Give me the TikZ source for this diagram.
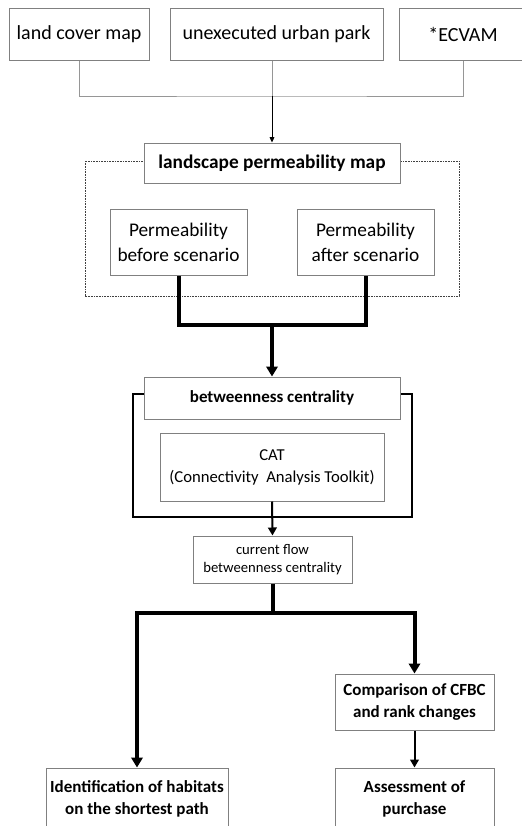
\documentclass[tikz,border=0pt]{standalone}
\usepackage{fontspec}
\setmainfont{Carlito}
\usetikzlibrary{arrows.meta,calc}
\definecolor{boxgray}{RGB}{128,128,128}
\definecolor{linegray}{RGB}{150,150,150}
\begin{document}
\begin{tikzpicture}[x=0.75pt,y=-0.75pt,
  box/.style={draw=boxgray,line width=0.75pt,fill=white,inner sep=0pt,align=center,text=black},
  fA/.style={font=\fontsize{15pt}{18pt}\selectfont},
  fB/.style={font=\fontsize{14.5pt}{18.75pt}\selectfont},
  fBb/.style={font=\fontsize{14.5pt}{18.75pt}\selectfont\bfseries},
  fC/.style={font=\fontsize{12.75pt}{16.5pt}\selectfont\bfseries},
  fD/.style={font=\fontsize{12.5pt}{16.5pt}\selectfont},
  fE/.style={font=\fontsize{11pt}{13.5pt}\selectfont},
  thinline/.style={draw=linegray,line width=0.75pt},
  thinarrow/.style={draw=black,line width=0.75pt,-{Triangle[length=4pt,width=3.5pt]}},
  heavy/.style={draw=black,line width=3pt},
  heavyarrow/.style={heavy,-{Triangle[length=7.5pt,width=8.5pt]}},
  midarrow/.style={draw=black,line width=1.5pt,-{Triangle[length=6pt,width=6.5pt]}},
  dotframe/.style={draw=black!75,line width=0.75pt,dash pattern=on 0.6pt off 0.6pt},
  bracket/.style={draw=black,line width=1.5pt}
]
\useasboundingbox (0,0) rectangle (522,826);
\clip (0,0) rectangle (522,826);
\fill[white] (0,0) rectangle (522,826);

% top row
\node[box,fA,minimum width=105pt,minimum height=39pt] (lcm) at (79,34) {land cover map};
\node[box,fA,minimum width=159.75pt,minimum height=39pt] (uup) at (276.5,34) {unexecuted urban park};
\node[box,fA,minimum width=96pt,minimum height=39pt] (ecv) at (463,34) {*ECVAM};

% dotted frame
\draw[dotframe] (85,161) rectangle (459,296);

\node[box,fBb,minimum width=192pt,minimum height=30pt] (lpm) at (272,163) {landscape permeability map};
\node[box,fB,minimum width=102.75pt,minimum height=49.5pt] (pb) at (178.5,242) {Permeability\\before scenario};
\node[box,fB,minimum width=102.75pt,minimum height=49.5pt] (pa) at (365.5,242) {Permeability\\after scenario};

% top connectors
\coordinate (j1) at (lpm.north |- 0,96);
\draw[thinline] (lcm.south) |- (j1) -| (ecv.south);
\draw[thinline] (lpm.north |- uup.south) -- (j1);
\draw[thinarrow] (j1) -- (lpm.north);

% betweenness block
\draw[bracket] (133,394) rectangle (412,517);
\node[box,fC,minimum width=192pt,minimum height=31.5pt] (bc) at (272,398) {betweenness centrality};
\node[box,fD,minimum width=168pt,minimum height=51pt] (cat) at (272,467) {CAT\\(Connectivity~ Analysis Toolkit)};

\coordinate (j2) at (bc.north |- 0,325);
\draw[heavy] (pb.south) |- (j2) -| (pa.south);
\draw[heavyarrow] (j2) -- (bc.north);

\node[box,fE,minimum width=119.25pt,minimum height=35.25pt] (cf) at (272.5,559.5) {current flow\\betweenness centrality};
\draw[midarrow] (cat.south) -- (cf.north);

% bottom
\node[box,fC,minimum width=119.25pt,minimum height=42pt] (cmp) at (414.5,702) {Comparison of CFBC\\and rank changes};
\node[box,fC,minimum width=136.5pt,minimum height=46.5pt] (idh) at (137,799) {Identification of habitats\\on the shortest path};
\node[box,fC,minimum width=119.25pt,minimum height=46.5pt] (asm) at (414.5,799) {Assessment of\\purchase};

\coordinate (j3) at (cf.south |- 0,613);
\draw[heavy] (cf.south) -- (j3);
\draw[heavyarrow] (j3) -| (idh.north);
\draw[heavyarrow] (j3) -| (cmp.north);
\draw[midarrow] (cmp.south) -- (asm.north);
\end{tikzpicture}
\end{document}
